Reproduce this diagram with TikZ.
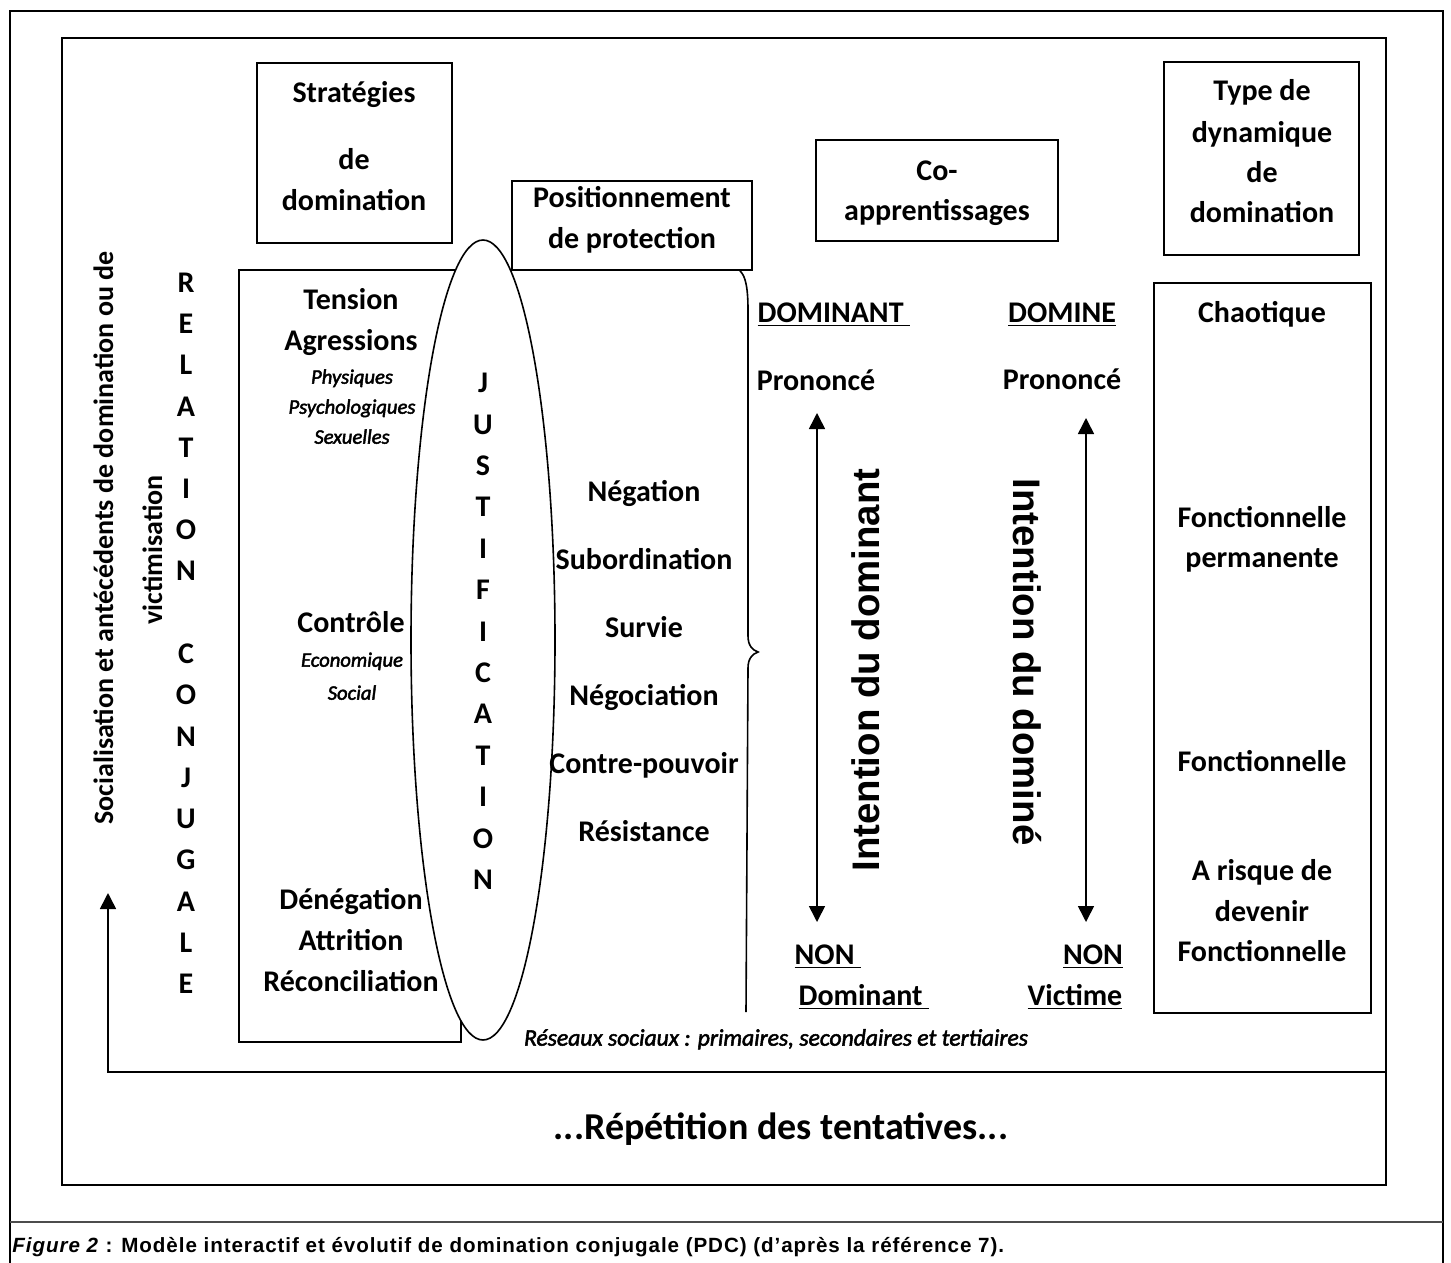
\documentclass[tikz,border=0pt]{standalone}
\usepackage{fontspec}
\setmainfont{Carlito}
\newfontfamily\bitfont{Carlito}[FakeBold=2.2]
\newfontfamily\arialfont{Liberation Sans}
\newfontfamily\capfont{Liberation Sans}[LetterSpace=4.5, UprightFont={Liberation Sans Bold}, ItalicFont={Liberation Sans Bold Italic}]
\usetikzlibrary{arrows.meta,positioning,shapes.geometric}

\begin{document}
\begin{tikzpicture}[
  x=0.5pt, y=-0.5pt,
  box/.style={draw, line width=1pt},
  txt/.style={inner sep=0pt, font=\fontsize{15}{18}\selectfont\bfseries, text height=9.7pt, text depth=0pt},
  sub/.style={inner sep=0pt, font=\bitfont\fontsize{10.3}{12}\selectfont\itshape, text height=6.7pt, text depth=0pt},
  soc/.style={txt, font=\fontsize{14}{16}\selectfont\bfseries, text height=9pt, rotate=90},
  axis/.style={inner sep=0pt, font=\arialfont\fontsize{19.2}{22}\selectfont\bfseries, text height=13.7pt, text depth=0pt},
  fleche/.tip={Triangle[width=8pt,length=8pt]},
  dbl/.style={fleche-fleche, line width=0.8pt}
]
\useasboundingbox (0,0) rectangle (1451,1263);

% page frame and caption
\draw[line width=1.2pt] (10,1263) -- (10,11) -- (1443,11) -- (1443,1263);
\draw[line width=1pt, black!70] (10,1222) -- (1443,1222);
\node[anchor=base west, inner sep=0pt, font=\capfont\fontsize{10.3}{12}\selectfont] (caption) at (12,1252)
  {\textit{Figure 2} : Modèle interactif et évolutif de domination conjugale (PDC) (d’après la référence 7).};

% model frame
\draw[line width=1.1pt] (62,38) rectangle (1386,1185);

% headers
\draw[box] (257,63) rectangle (452,243);
\foreach \t/\y [count=\i] in {Stratégies/93, de/160, domination/201}
  \node[txt] (strat\i) at (354,\y) {\t};
\draw[box] (512,181) rectangle (752,270);
\node[txt] (posit1) at (632,198) {Positionnement};
\node[txt] (posit2) at (632,239) {de protection};
\draw[box] (816,140) rectangle (1058,241);
\node[txt] (coap1) at (937,171) {Co-};
\node[txt] (coap2) at (937,211) {apprentissages};
\draw[box] (1164,62) rectangle (1359,255);
\foreach \t/\y [count=\i] in {Type de/91, dynamique/133, de/173, domination/213}
  \node[txt] (type\i) at (1262,\y) {\t};

% socialisation and relation
\node[soc] (social1) at (104,538) {Socialisation et antécédents de domination ou de};
\node[soc] (social2) at (153,550) {victimisation};
\foreach \c [count=\i] in {R,E,L,A,T,I,O,N}
  \node[txt] (rel\i) at (186,{283+41.1*(\i-1)}) {\c};
\foreach \c [count=\i] in {C,O,N,J,U,G,A,L,E}
  \node[txt] (conj\i) at (186,{654+41.25*(\i-1)}) {\c};

% strategies
\draw[box] (239,270) rectangle (461,1042);
\foreach \t/\y [count=\i] in {Tension/300, Agressions/341, Contrôle/623, Dénégation/900, Attrition/941, Réconciliation/982}
  \node[txt] (strata\i) at (351,\y) {\t};
\foreach \t/\y [count=\i] in {Physiques/377, Psychologiques/407, Sexuelles/437, Economique/660, Social/693}
  \node[sub] (stratb\i) at (352,\y) {\t};

% justification
\node[draw, ellipse, fill=white, line width=0.8pt, inner sep=0pt, minimum width=72pt, minimum height=400pt] (justif) at (483,640) {};
\foreach \c [count=\i] in {J,U,S,T,I,F,I,C,A,T,I,O,N}
  \node[txt] (just\i) at (483,{383+41.4*(\i-1)}) {\c};

% protection
\foreach \t/\y [count=\i] in {Négation/492, Subordination/560, Survie/628, Négociation/696, Contre-pouvoir/764, Résistance/832}
  \node[txt] (prot\i) at (644,\y) {\t};
\draw[line width=0.8pt] (740,271) .. controls (746,276) and (748,290) .. (748,310) -- (748,636)
  .. controls (748,645) and (752,650) .. (758,652) .. controls (752,654) and (748,659) .. (748,668) -- (746,1012);

% co-apprentissages
\node[txt] (domt) at (834,313) {\underline{DOMINANT\ }};
\node[txt] (domd) at (1062,313) {\underline{DOMINE}};
\node[txt] (pront) at (816,381) {Prononcé};
\node[txt] (prond) at (1062,380) {Prononcé};
\node[txt] (nont) at (828,955) {\underline{NON\ }};
\node[txt] (nond) at (1093,955) {\underline{NON}};
\node[txt] (dmnt) at (864,996) {\underline{Dominant\ }};
\node[txt] (vict) at (1075,996) {\underline{Victime}};
\coordinate (topt) at (817,413);
\coordinate (bott) at (817,922);
\coordinate (topd) at (1086,418);
\coordinate (botd) at (1086,922);
\draw[dbl] (topt) -- (bott);
\draw[dbl] (topd) -- (botd);
\node[axis, rotate=90] (intt) at (866,670) {Intention du dominant};
\node[axis, rotate=-90] (intd) at (1027,662) {Intention du dominé};

% type of dynamics
\draw[box] (1154,283) rectangle (1371,1013);
\foreach \t/\y [count=\i] in {Chaotique/313, Fonctionnelle/518, permanente/558, Fonctionnelle/762, A risque de/871, devenir/912, Fonctionnelle/952}
  \node[txt] (dyn\i) at (1262,\y) {\t};

% networks and repetition loop
\node[sub, font=\bitfont\fontsize{11.8}{13}\selectfont\itshape, text height=7.6pt] (reseaux) at (776,1038)
  {Réseaux sociaux : primaires, secondaires et tertiaires};
\coordinate (loopr) at (1386,1072);
\coordinate (loopl) at (108,1072);
\coordinate (loopt) at (108,893);
\draw[-fleche, line width=0.8pt] (loopr) -- (loopl) -- (loopt);
\node[txt, font=\fontsize{19}{22}\selectfont\bfseries, text height=12.2pt] (repet) at (781,1127) {...Répétition des tentatives...};
\end{tikzpicture}
\end{document}
